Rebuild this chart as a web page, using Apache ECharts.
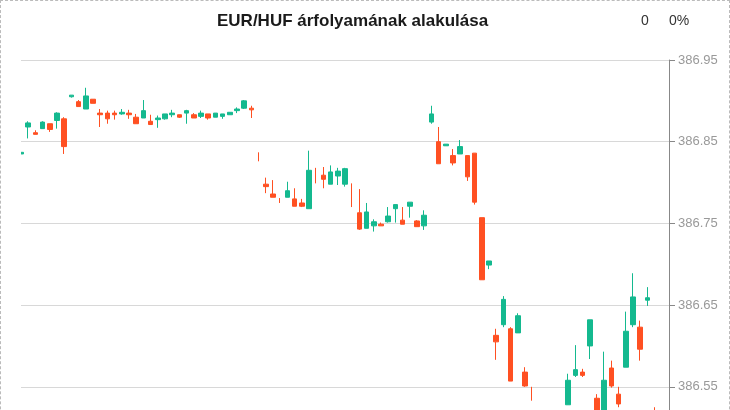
<!DOCTYPE html>
<html>
<head>
<meta charset="utf-8">
<script src="https://cdn.jsdelivr.net/npm/echarts@6/dist/echarts.min.js"></script>
<style>
html,body{margin:0;padding:0;overflow:hidden;background:#fff;}
#chart{position:absolute;left:0;top:0;width:730px;height:600px;}
#frame{position:absolute;left:0;top:0;width:730px;height:600px;box-sizing:border-box;border:1px dashed #bbb;pointer-events:none;}
</style>
</head>
<body>
<div id="chart"></div>
<div id="frame"></div>
<script>
const titleText = 'EUR/HUF árfolyamának alakulása';
const changeValue = '0';
const changePercent = '0%';
const categories = [
'10:00','10:01','10:02','10:03','10:04','10:05','10:06','10:07','10:08','10:09',
'10:10','10:11','10:12','10:13','10:14','10:15','10:16','10:17','10:18','10:19',
'10:20','10:21','10:22','10:23','10:24','10:25','10:26','10:27','10:28','10:29',
'10:30','10:31','10:32','10:33','10:34','10:35','10:36','10:37','10:38','10:39',
'10:40','10:41','10:42','10:43','10:44','10:45','10:46','10:47','10:48','10:49',
'10:50','10:51','10:52','10:53','10:54','10:55','10:56','10:57','10:58','10:59',
'11:00','11:01','11:02','11:03','11:04','11:05','11:06','11:07','11:08','11:09',
'11:10','11:11','11:12','11:13','11:14','11:15','11:16','11:17','11:18','11:19',
'11:20','11:21','11:22','11:23','11:24','11:25','11:26','11:27','11:28','11:29','11:30'];
const openVals = [
386.835,386.868,386.861,386.866,386.872,386.876,386.878,386.905,386.899,386.890,
386.902,386.885,386.885,386.885,386.884,386.885,386.880,386.879,386.875,386.877,
386.878,386.883,386.883,386.885,386.883,386.881,386.884,386.880,386.881,386.883,
386.888,386.891,386.891,386.836,386.798,386.786,386.780,386.782,386.780,386.775,
386.768,386.810,386.809,386.798,386.808,386.798,386.790,386.763,386.744,386.747,
386.749,386.752,386.768,386.754,386.771,386.753,386.747,386.874,386.850,386.845,
386.833,386.835,386.833,386.836,386.757,386.699,386.613,386.626,386.621,386.616,
386.568,386.545,386.515,386.500,386.490,386.505,386.528,386.564,386.568,386.600,
386.536,386.512,386.573,386.541,386.574,386.626,386.623,386.656,386.510,386.505,386.495];
const closeVals = [
386.837,386.873,386.859,386.874,386.865,386.885,386.844,386.907,386.893,386.906,
386.897,386.883,386.878,386.883,386.886,386.883,386.872,386.888,386.871,386.879,
386.884,386.885,386.880,386.888,386.879,386.885,386.879,386.885,386.884,386.886,
386.890,386.900,386.889,386.836,386.795,386.782,386.780,386.790,386.771,386.771,
386.815,386.810,386.804,386.813,386.814,386.817,386.790,386.743,386.764,386.752,
386.747,386.759,386.773,386.749,386.776,386.746,386.760,386.884,386.823,386.847,
386.824,386.844,386.807,386.776,386.681,386.704,386.605,386.657,386.557,386.637,
386.551,386.545,386.500,386.490,386.505,386.512,386.558,386.571,386.564,386.632,
386.510,386.558,386.551,386.529,386.618,386.660,386.596,386.659,386.510,386.495,386.500];
const lowVals = [
386.835,386.854,386.859,386.866,386.862,386.866,386.835,386.904,386.893,386.890,
386.897,386.868,386.872,386.877,386.883,386.878,386.872,386.879,386.871,386.867,
386.877,386.880,386.879,386.872,386.879,386.879,386.877,386.880,386.878,386.883,
386.885,386.890,386.879,386.826,386.787,386.782,386.775,386.782,386.771,386.770,
386.768,386.799,386.793,386.798,386.797,386.795,386.770,386.742,386.744,386.740,
386.747,386.751,386.751,386.749,386.757,386.746,386.742,386.872,386.823,386.845,
386.821,386.835,386.802,386.773,386.681,386.694,386.583,386.623,386.557,386.616,
386.550,386.533,386.495,386.480,386.485,386.500,386.528,386.562,386.562,386.584,
386.505,386.505,386.549,386.525,386.574,386.623,386.582,386.649,386.500,386.490,386.485];
const highVals = [
386.837,386.875,386.864,386.875,386.872,386.886,386.880,386.907,386.901,386.916,
386.902,386.890,386.888,386.888,386.890,386.889,386.884,386.901,386.883,386.882,
386.884,386.889,386.883,386.889,386.885,386.888,386.884,386.885,386.884,386.886,
386.892,386.901,386.894,386.837,386.806,386.803,386.781,386.801,386.793,386.780,
386.839,386.818,386.819,386.821,386.818,386.818,386.799,386.792,386.775,386.755,
386.751,386.770,386.773,386.770,386.776,386.754,386.766,386.894,386.868,386.847,
386.841,386.852,386.833,386.836,386.757,386.704,386.621,386.661,386.623,386.640,
386.574,386.550,386.518,386.510,386.512,386.518,386.566,386.601,386.572,386.632,
386.541,386.593,386.582,386.550,386.642,386.689,386.631,386.672,386.525,386.510,386.505];
const yTicks = [386.35, 386.95, 0.1];

const UP = '#14b98f', DOWN = '#ff5022';
const candles = [], dojis = [];
for (let i = 0; i < categories.length; i++) {
  const row = [openVals[i], closeVals[i], lowVals[i], highVals[i]];
  if (openVals[i] === closeVals[i]) { dojis.push(row); candles.push('-'); }
  else { candles.push(row); dojis.push('-'); }
}
const FONT = '"Liberation Sans", Arial, sans-serif';
const chart = echarts.init(document.getElementById('chart'), null, {renderer: 'canvas'});
chart.setOption({
  animation: false,
  textStyle: {fontFamily: FONT},
  title: {
    text: titleText, left: 217, top: 13, padding: 0,
    textStyle: {fontSize: 17, fontWeight: 'bold', color: '#1a1a1a', fontFamily: FONT}
  },
  graphic: [
    {type: 'text', left: 641, top: 14, style: {text: changeValue, fill: '#333', font: '14px ' + FONT}},
    {type: 'text', left: 669, top: 14, style: {text: changePercent, fill: '#333', font: '14px ' + FONT}},
    {type: 'rect', left: 1, top: 60, z: 100, shape: {width: 20, height: 360}, style: {fill: '#fff'}}
  ],
  grid: {left: 21, right: 61, top: 60, height: 490.2},
  xAxis: {
    type: 'category', data: categories, boundaryGap: false,
    axisLine: {show: false}, axisTick: {show: false}, axisLabel: {show: false},
    splitLine: {show: false}
  },
  yAxis: {
    type: 'value', position: 'right', scale: true,
    min: yTicks[0], max: yTicks[1], interval: yTicks[2],
    axisLine: {show: true, lineStyle: {color: '#888', width: 1}},
    axisTick: {show: true, length: 6, lineStyle: {color: '#888'}},
    axisLabel: {color: '#999', fontSize: 13, margin: 9, fontFamily: FONT,
      formatter: v => v.toFixed(2)},
    splitLine: {show: true, lineStyle: {color: '#d8d8d8', width: 1}}
  },
  series: [
    {
      type: 'candlestick', data: candles, barWidth: 5, clip: true,
      itemStyle: {color: UP, color0: DOWN, borderColor: UP, borderColor0: DOWN, borderWidth: 1}
    },
    {
      type: 'candlestick', data: dojis, barWidth: 1, clip: true,
      itemStyle: {color: DOWN, color0: DOWN, borderColor: DOWN, borderColor0: DOWN, borderColorDoji: DOWN, borderWidth: 1}
    }
  ]
});
</script>
</body>
</html>
